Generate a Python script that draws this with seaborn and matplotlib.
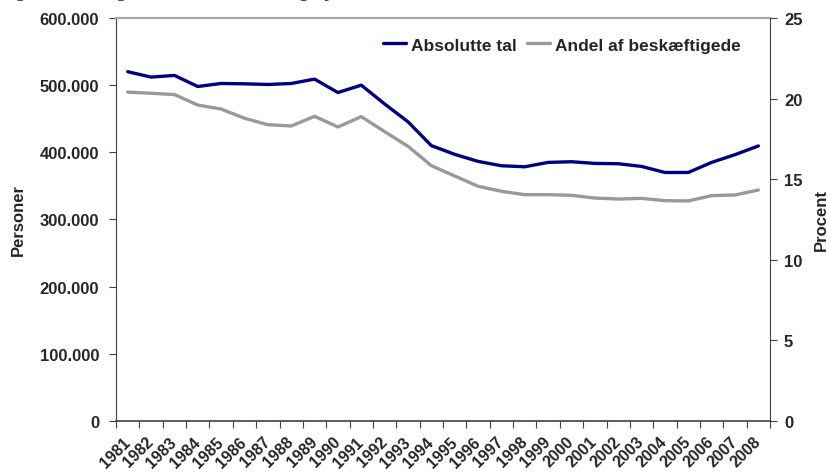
import numpy as np
import pandas as pd
import matplotlib
matplotlib.use('Agg')
import matplotlib.pyplot as plt
import matplotlib.ticker as mticker
import seaborn as sns

years = list(range(1981, 2009))
personer = [520000, 512000, 514500, 498000, 502500, 502000, 501000, 502500, 509000, 489000,
            500000, 472000, 445500, 410000, 397000, 386500, 380000, 378500, 385000, 386000,
            383500, 383000, 379000, 370000, 370000, 385000, 396500, 409500]
procent = [20.40, 20.33, 20.25, 19.60, 19.35, 18.78, 18.38, 18.30, 18.90, 18.24,
           18.88, 17.95, 17.04, 15.84, 15.20, 14.56, 14.25, 14.04, 14.04, 14.00,
           13.83, 13.77, 13.81, 13.67, 13.65, 13.98, 14.02, 14.33]
labels = ['Absolutte tal', 'Andel af beskæftigede']

sns.set_style('ticks')
plt.rcParams['font.family'] = ['Liberation Sans', 'DejaVu Sans']
plt.rcParams['font.weight'] = 'bold'

df = pd.DataFrame({'pos': np.arange(len(years)), 'personer': personer, 'procent': procent})

fig = plt.figure(figsize=(8.27, 4.77), dpi=100)
ax = fig.add_axes([0.1403, 0.1153, 0.7908, 0.8449])

sns.lineplot(x='pos', y='personer', data=df, ax=ax, color='#000080', lw=2.4,
             label=labels[0], legend=False)
ax2 = ax.twinx()
sns.lineplot(x='pos', y='procent', data=df, ax=ax2, color='#999999', lw=2.4,
             label=labels[1], legend=False)

# x axis: categories, ticks between them
ax.set_xlim(-0.5, len(years) - 0.5)
ax.set_xticks(df['pos'])
ax.set_xticklabels([str(y) for y in years], rotation=45, ha='right', va='center',
                   rotation_mode='anchor', fontsize=11.5, fontweight='bold')
ax.set_xticks(np.arange(-0.5, len(years), 1), minor=True)
ax.tick_params(axis='x', which='major', length=0, pad=13)
ax.tick_params(axis='x', which='minor', length=5, width=0.8, color='#404040', direction='out')
ax.set_xlabel('')

ax.set_ylim(0, 600000)
ax.set_yticks(np.arange(0, 600001, 100000))
ax.yaxis.set_major_formatter(mticker.FuncFormatter(lambda v, p: f'{int(v):,}'.replace(',', '.')))
ax.tick_params(axis='y', length=5, width=0.8, color='#404040', pad=7, labelsize=12)
ax.set_ylabel('Personer', fontsize=12, fontweight='bold', labelpad=10)

ax2.set_ylim(0, 25)
ax2.set_yticks(np.arange(0, 26, 5))
ax2.tick_params(axis='y', length=5, width=0.8, color='#404040', pad=5, labelsize=12)
ax2.set_ylabel('Procent', fontsize=12, fontweight='bold', labelpad=8, rotation=90)

for a in (ax, ax2):
    for s in a.spines.values():
        s.set_visible(False)
ax.spines['left'].set_visible(True)
ax.spines['left'].set_color('#404040')
ax.spines['bottom'].set_visible(True)
ax.spines['bottom'].set_color('#404040')
ax.spines['bottom'].set_linewidth(1.2)
ax.spines['top'].set_visible(True)
ax.spines['top'].set_color('#a6a6a6')
ax.spines['top'].set_linewidth(1.5)
ax2.spines['right'].set_visible(True)
ax2.spines['right'].set_color('#404040')

h1, l1 = ax.get_legend_handles_labels()
h2, l2 = ax2.get_legend_handles_labels()
ax2.legend(h1 + h2, l1 + l2, loc='center right', bbox_to_anchor=(0.955, 0.933), ncol=2,
           frameon=False, fontsize=12.5, handlelength=1.3, handletextpad=0.3,
           columnspacing=0.6, borderaxespad=0, borderpad=0)

# caption line above the chart, mostly cut off by the top edge as in the source
fig.text(0.0, 1.0 + 3 / 477, 'Figur 2.1. Ledigheden i absolutte tal og i procent, 1981-2008',
         family=['Liberation Serif', 'DejaVu Serif'], style='italic', fontweight='normal',
         fontsize=14, va='baseline', ha='left')

plt.savefig('out.png', dpi=100)
